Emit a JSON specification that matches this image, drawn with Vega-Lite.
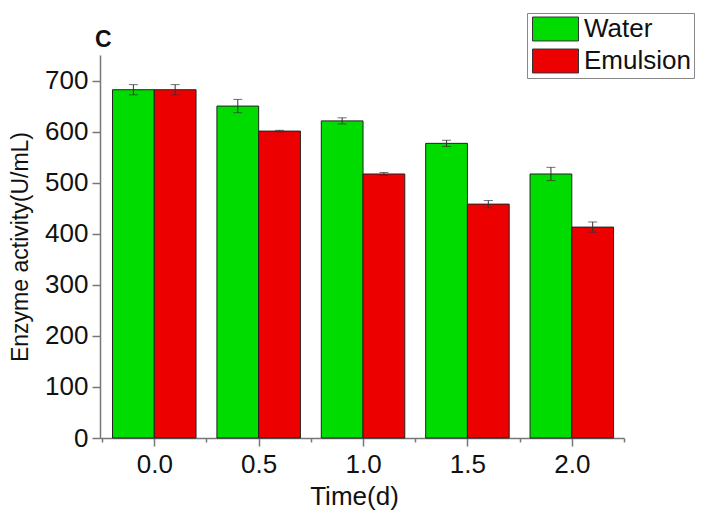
{
  "$schema": "https://vega.github.io/schema/vega-lite/v6.json",
  "width": 524,
  "height": 383,
  "autosize": {"type": "none"},
  "padding": {"left": 100, "top": 55, "right": 84, "bottom": 85},
  "background": "white",
  "config": {"view": {"stroke": null}, "font": "Liberation Sans"},
  "title": {"text": "C", "anchor": "start", "frame": "group", "fontSize": 23, "fontWeight": "bold", "font": "Liberation Sans", "dx": -5, "dy": 48, "offset": 9, "color": "#111"},
  "data": {"values": [
    {"time": 0.0, "group": "Water", "value": 682, "err": 10},
    {"time": 0.0, "group": "Emulsion", "value": 682, "err": 10},
    {"time": 0.5, "group": "Water", "value": 650, "err": 13},
    {"time": 0.5, "group": "Emulsion", "value": 601, "err": 1.5},
    {"time": 1.0, "group": "Water", "value": 621, "err": 6},
    {"time": 1.0, "group": "Emulsion", "value": 517, "err": 3},
    {"time": 1.5, "group": "Water", "value": 577, "err": 6},
    {"time": 1.5, "group": "Emulsion", "value": 458, "err": 7},
    {"time": 2.0, "group": "Water", "value": 517, "err": 13},
    {"time": 2.0, "group": "Emulsion", "value": 413, "err": 10}
  ]},
  "transform": [
    {"calculate": "datum.group === 'Water' ? datum.time - 0.2 : datum.time", "as": "x0"},
    {"calculate": "datum.x0 + 0.2", "as": "x1"},
    {"calculate": "datum.x0 + 0.1", "as": "xc"},
    {"calculate": "datum.value - datum.err", "as": "lo"},
    {"calculate": "datum.value + datum.err", "as": "hi"}
  ],
  "layer": [
    {
      "mark": {"type": "bar", "stroke": "#222", "strokeWidth": 1},
      "encoding": {
        "x": {
          "field": "x0", "type": "quantitative",
          "scale": {"domain": [-0.26, 2.25], "nice": false, "zero": false},
          "axis": {
            "title": "Time(d)",
            "titleX": 254,
            "values": [-0.25, 0, 0.25, 0.5, 0.75, 1, 1.25, 1.5, 1.75, 2, 2.25],
            "labelExpr": "round(datum.value*4) % 2 !== 0 ? '' : format(datum.value, '.1f')",
            "tickSize": {"condition": {"test": "round(datum.value*4) % 2 !== 0", "value": 4}, "value": 8},
            "grid": false,
            "domainColor": "#777", "domainWidth": 1.5,
            "tickColor": "#777", "tickWidth": 1.5,
            "labelFontSize": 26, "labelColor": "#111", "labelPadding": 5, "labelFlush": false,
            "titleFontSize": 26, "titleFontWeight": "normal", "titleColor": "#111", "titlePadding": 6
          }
        },
        "x2": {"field": "x1"},
        "y": {
          "field": "value", "type": "quantitative",
          "scale": {"domain": [0, 750], "nice": false},
          "axis": {
            "title": "Enzyme activity(U/mL)",
            "values": [0, 50, 100, 150, 200, 250, 300, 350, 400, 450, 500, 550, 600, 650, 700, 750],
            "labelExpr": "datum.value % 100 !== 0 ? '' : datum.value",
            "tickSize": {"condition": {"test": "datum.value % 100 !== 0", "value": 4}, "value": 8},
            "grid": false,
            "domainColor": "#777", "domainWidth": 1.5,
            "tickColor": "#777", "tickWidth": 1.5,
            "labelFontSize": 26, "labelColor": "#111", "labelPadding": 4, "labelFlush": false,
            "titleFontSize": 23, "titleFontWeight": "normal", "titleColor": "#111", "titlePadding": 12
          }
        },
        "y2": {"datum": 0},
        "color": {
          "field": "group", "type": "nominal",
          "scale": {"domain": ["Water", "Emulsion"], "range": ["#00dc00", "#ec0000"]},
          "legend": {
            "title": null,
            "orient": "none", "legendX": 427, "legendY": -42,
            "symbolType": "M-0.913,-1.04H3.087V1.04H-0.913Z",
            "symbolSize": 529,
            "symbolStrokeColor": "#333", "symbolStrokeWidth": 1, "symbolOpacity": 1,
            "labelFontSize": 26, "labelColor": "#111", "labelOffset": 28,
            "strokeColor": "#888", "fillColor": "white", "padding": 3,
            "rowPadding": 4
          }
        }
      }
    },
    {
      "mark": {"type": "rule", "color": "#333", "strokeWidth": 1},
      "encoding": {
        "x": {"field": "xc", "type": "quantitative"},
        "y": {"field": "lo", "type": "quantitative"},
        "y2": {"field": "hi"}
      }
    },
    {
      "mark": {"type": "tick", "orient": "horizontal", "color": "#333", "size": 9, "thickness": 1},
      "encoding": {
        "x": {"field": "xc", "type": "quantitative"},
        "y": {"field": "hi", "type": "quantitative"}
      }
    },
    {
      "mark": {"type": "tick", "orient": "horizontal", "color": "#333", "size": 9, "thickness": 1},
      "encoding": {
        "x": {"field": "xc", "type": "quantitative"},
        "y": {"field": "lo", "type": "quantitative"}
      }
    }
  ]
}
